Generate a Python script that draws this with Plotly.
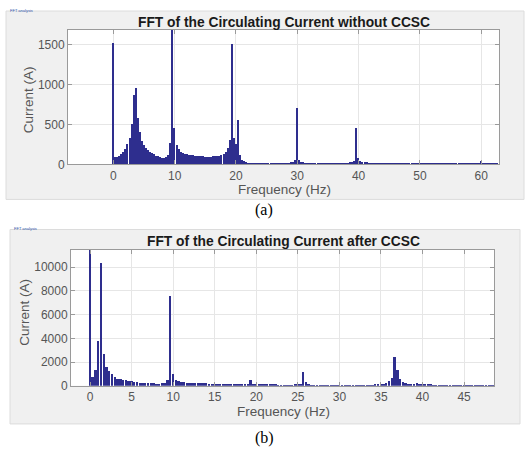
import plotly.graph_objects as go

# ---------------- data ----------------
RES_HZ = 1.0 / 3.0  # FFT bin spacing (Hz)

# (a) FFT of the circulating current without CCSC, one value per bin starting at 0 Hz
amp_a = [
    1520, 90, 95, 110, 130, 160, 190, 250, 330, 500, 870, 950, 580, 400, 290, 240,
    200, 175, 155, 140, 125, 110, 100, 90, 80, 75, 90, 120, 270, 1750, 450,
    240, 190, 160, 145, 135, 125, 120, 115, 112, 108, 105, 102, 100, 98, 96, 95, 95,
    96, 98, 100, 105, 110, 118, 130, 150, 200, 300, 1510, 330, 250, 560, 120, 60, 40, 30, 22,
    20, 18, 17, 16, 16, 15, 15, 15, 15, 16, 15, 15, 16, 15, 15, 16, 16, 17, 18, 22,
    30, 35, 50, 700, 50, 35, 25,
    20, 18, 17, 16, 16, 15, 15, 15, 16, 15, 15, 15, 16, 15, 15, 15, 16, 15, 16, 17, 18, 20, 24,
    30, 45, 460, 80, 45, 35, 28,
    24, 22, 20, 19, 18, 18, 17, 17, 16, 16, 16, 15, 15, 15, 15, 15, 14, 14, 14, 14,
    15, 14, 14, 14, 14, 14, 14, 14, 14, 14, 13, 13, 13, 13, 14, 13, 13, 13, 13, 13,
    13, 13, 13, 13, 13, 13, 13, 14, 14, 14, 14, 15, 15, 16, 18,
    22, 40, 22, 16, 14, 13, 13, 13, 13, 13,
]

# (b) FFT of the circulating current after CCSC
amp_b = [
    12500, 800, 1400, 3800, 10400, 2700, 1650, 1250, 1000, 800, 650, 580, 550, 520, 480,
    420, 380, 350, 320, 300, 280, 260, 250, 240, 230, 230, 240, 300, 550, 7600, 1050,
    550, 420, 360, 330, 300, 290, 280, 270, 260, 250, 245, 240, 235, 230, 225, 220, 215,
    210, 205, 200, 200, 195, 190, 190, 185, 190, 220,
    560,
    210, 180, 175, 170, 165, 160, 160, 155, 155, 150, 150, 150, 145, 145, 150, 155, 170, 220,
    1180, 350,
    170, 150, 145, 140, 140, 135, 135, 130, 130, 130, 130, 130, 125, 125, 125, 125, 130,
    130, 130, 135, 135, 140, 145, 150, 160, 175, 200, 230,
    300, 420, 700, 2450, 1400, 600, 330,
    250, 210, 190, 200, 260, 200, 175, 165, 160, 155, 150, 145, 145, 140, 140, 140, 135,
    135, 135, 130, 130, 130, 130, 130, 130, 125, 125, 125, 125, 125, 125, 125, 125,
]

freq_a = [i * RES_HZ for i in range(len(amp_a))]
freq_b = [i * RES_HZ for i in range(len(amp_b))]

xticks_a = [0, 10, 20, 30, 40, 50, 60]
yticks_a = [0, 500, 1000, 1500]
xticks_b = [0, 5, 10, 15, 20, 25, 30, 35, 40, 45]
yticks_b = [0, 2000, 4000, 6000, 8000, 10000]

title_a = "FFT of the Circulating Current without CCSC"
title_b = "FFT of the Circulating Current after CCSC"
xlabel = "Frequency (Hz)"
ylabel = "Current (A)"

# ---------------- layout helpers ----------------
W, H = 528, 451      # reference pixel space
FIG_H = 459          # rendered figure height


def px(x):
    return x / W


def py(y):
    return 1 - y / H


BAR_COLOR = "#2e2e8e"
FONT = "Liberation Sans, Arial, sans-serif"
TICK_COLOR = "#555555"
AXIS_LINE = "#9a9a9a"
GRID = "#e6e6e6"

fig = go.Figure()
fig.add_trace(go.Bar(x=freq_a, y=amp_a, xaxis="x", yaxis="y", width=RES_HZ * 0.7,
                     marker=dict(color=BAR_COLOR, line=dict(width=0)), showlegend=False))
fig.add_trace(go.Bar(x=freq_b, y=amp_b, xaxis="x2", yaxis="y2", width=RES_HZ * 0.7,
                     marker=dict(color=BAR_COLOR, line=dict(width=0)), showlegend=False))

plot_a = dict(x0=68, x1=499, y0=30, y1=164)
plot_b = dict(x0=71, x1=494, y0=249, y1=385)

axis_common = dict(showline=True, linecolor=AXIS_LINE, linewidth=1, mirror="ticks",
                   ticks="inside", ticklen=4, tickcolor=AXIS_LINE, showgrid=True,
                   gridcolor=GRID, gridwidth=1, zeroline=False,
                   tickfont=dict(family=FONT, size=12, color=TICK_COLOR))

fig.update_layout(
    width=W, height=FIG_H, margin=dict(l=0, r=0, t=0, b=0),
    paper_bgcolor="white", plot_bgcolor="rgba(0,0,0,0)",
    bargap=0,
    xaxis=dict(domain=[px(plot_a["x0"]), px(plot_a["x1"])], anchor="y",
               range=[-7.4, 62.9], tickvals=xticks_a,
               ticktext=[str(v) for v in xticks_a], **axis_common),
    yaxis=dict(domain=[py(plot_a["y1"]), py(plot_a["y0"])], anchor="x",
               range=[0, 1680], tickvals=yticks_a,
               ticktext=[str(v) for v in yticks_a], **axis_common),
    xaxis2=dict(domain=[px(plot_b["x0"]), px(plot_b["x1"])], anchor="y2",
                range=[-2.3, 48.6], tickvals=xticks_b,
                ticktext=[str(v) for v in xticks_b], **axis_common),
    yaxis2=dict(domain=[py(plot_b["y1"]), py(plot_b["y0"])], anchor="x2",
                range=[0, 11480], tickvals=yticks_b,
                ticktext=[str(v) for v in yticks_b], **axis_common),
)

shapes = []
# gray figure panels
for (x0, y0, x1, y1) in [(6, 11, 524, 199), (10, 229, 520, 423)]:
    shapes.append(dict(type="rect", xref="paper", yref="paper", layer="below",
                       x0=px(x0), x1=px(x1), y0=py(y1), y1=py(y0),
                       fillcolor="#f0f0f0", line=dict(color="#dcdcdc", width=1)))
# white plotting areas
for p in (plot_a, plot_b):
    shapes.append(dict(type="rect", xref="paper", yref="paper", layer="below",
                       x0=px(p["x0"]), x1=px(p["x1"]), y0=py(p["y1"]), y1=py(p["y0"]),
                       fillcolor="white", line=dict(width=0)))
fig.update_layout(shapes=shapes)

ann = []


def text(x, y, s, size, color="#222222", bold=False, family=FONT, angle=0, xanchor="center"):
    ann.append(dict(x=px(x), y=py(y), xref="paper", yref="paper", text=f"<b>{s}</b>" if bold else s,
                    showarrow=False, xanchor=xanchor, yanchor="middle", textangle=angle,
                    font=dict(family=family, size=size, color=color)))


text(284, 22, title_a, 13.8, color="#1a1a1a", bold=True)
text(283, 241, title_b, 13.8, color="#1a1a1a", bold=True)
text(284, 189, xlabel, 13.5, color=TICK_COLOR)
text(283, 411, xlabel, 13.5, color=TICK_COLOR)
text(28, 100, ylabel, 13.5, color=TICK_COLOR, angle=-90)
text(25, 312, ylabel, 13.5, color=TICK_COLOR, angle=-90)
text(264, 210, "(a)", 16, color="black", family="Liberation Serif, Times New Roman, serif")
text(264, 437, "(b)", 16, color="black", family="Liberation Serif, Times New Roman, serif")
text(8, 10, "FFT analysis", 4, color="#3355aa", xanchor="left")
text(12, 228, "FFT analysis", 4, color="#3355aa", xanchor="left")
fig.update_layout(annotations=ann)

PAGE_FIX = (
    "var s='margin:0;padding:0;overflow:hidden';"
    "document.documentElement.style.cssText=s;document.body.style.cssText=s;"
)
fig.write_html("out.html", config={"displayModeBar": False}, post_script=PAGE_FIX)
